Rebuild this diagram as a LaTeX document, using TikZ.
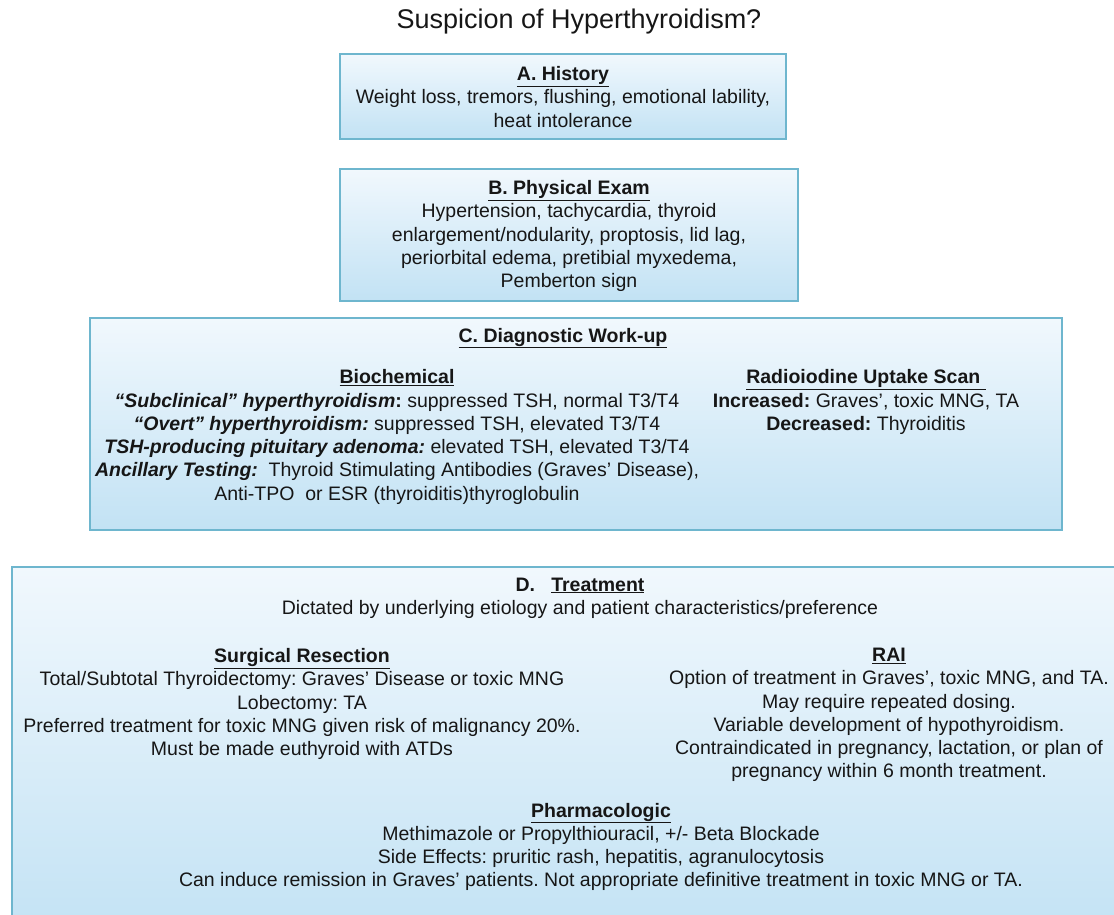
\documentclass[tikz,border=0pt]{standalone}
\usepackage{fontspec}
\setmainfont{Liberation Sans}
\definecolor{bordercol}{RGB}{110,182,206}
\definecolor{topcol}{RGB}{241,248,253}
\definecolor{botcol}{RGB}{194,226,244}
\definecolor{textcol}{RGB}{22,22,22}
\newcommand{\ulh}[1]{\underline{\smash{#1}}}
\begin{document}
\frenchspacing
\begin{tikzpicture}[x=1pt,y=-1pt,
  box/.style={draw=bordercol, line width=1.6pt, top color=topcol, bottom color=botcol},
  txt/.style={align=center, font=\fontsize{19.5}{23.3}\selectfont\frenchspacing, text=textcol, inner sep=0pt},
  ttl/.style={font=\fontsize{27}{32}\selectfont, text=textcol, inner sep=0pt}]
\useasboundingbox (0,0) rectangle (1114,915);
\clip (0,0) rectangle (1114,915);
% boxes
\path[box] (340,54) rectangle (786,139);
\path[box] (340,169) rectangle (798,301);
\path[box] (90,318) rectangle (1062,530);
\path[box] (12,567) rectangle (1130,940);
% title
\node[ttl] (title) at (579,22) {Suspicion of Hyperthyroidism?};
% A
\node[txt] (hist) at (563,97) {\textbf{\underline{A. History}}\\Weight loss, tremors, flushing, emotional lability,\\heat intolerance};
% B
\node[txt] (phys) at (569,236) {\textbf{\underline{B. Physical Exam}}\\Hypertension, tachycardia, thyroid\\enlargement/nodularity, proptosis, lid lag,\\periorbital edema, pretibial myxedema,\\Pemberton sign};
% C
\node[txt] (diag) at (563,338) {\textbf{\underline{C. Diagnostic Work-up}}};
\node[txt] (bio) at (397,437) {\textbf{\underline{Biochemical}}\\
\textbf{\textit{“Subclinical” hyperthyroidism}:} suppressed TSH, normal T3/T4\\
\textbf{\textit{“Overt” hyperthyroidism:}} suppressed TSH, elevated T3/T4\\
\textbf{\textit{TSH-producing pituitary adenoma:}} elevated TSH, elevated T3/T4\\
\textbf{\textit{Ancillary Testing:}}\ \ Thyroid Stimulating Antibodies (Graves’ Disease),\\
Anti-TPO\ \ or ESR (thyroiditis)thyroglobulin};
\node[txt] (rai) at (866,402) {\textbf{\underline{Radioiodine Uptake Scan\ }}\\
\textbf{Increased:} Graves’, toxic MNG, TA\\
\textbf{Decreased:} Thyroiditis};
% D
\node[txt] (treat) at (580,598) {\textbf{D.\ \ \ \underline{Treatment}}\\Dictated by underlying etiology and patient characteristics/preference};
\node[txt] (surg) at (302,704) {\textbf{\underline{Surgical Resection}}\\
Total/Subtotal Thyroidectomy: Graves’ Disease or toxic MNG\\
Lobectomy: TA\\
Preferred treatment for toxic MNG given risk of malignancy 20\%.\\
Must be made euthyroid with ATDs};
\node[txt] (raitx) at (889,715) {\textbf{\underline{RAI}}\\
Option of treatment in Graves’, toxic MNG, and TA.\\
May require repeated dosing.\\
Variable development of hypothyroidism.\\
Contraindicated in pregnancy, lactation, or plan of\\
pregnancy within 6 month treatment.};
\node[txt] (pharm) at (601,847) {\textbf{\underline{Pharmacologic}}\\
Methimazole or Propylthiouracil, +/- Beta Blockade\\
Side Effects: pruritic rash, hepatitis, agranulocytosis\\
Can induce remission in Graves’ patients. Not appropriate definitive treatment in toxic MNG or TA.};
\end{tikzpicture}
\end{document}
